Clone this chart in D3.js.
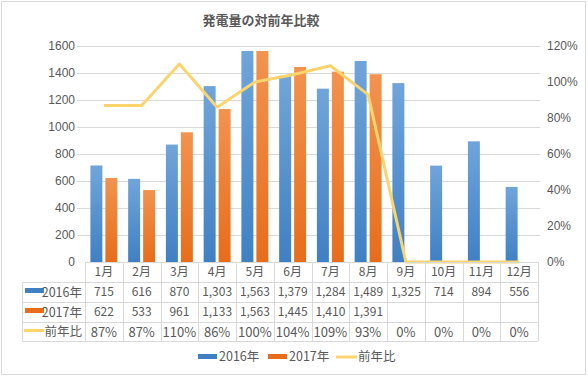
<!DOCTYPE html>
<html>
<head>
<meta charset="utf-8">
<script src="https://cdn.jsdelivr.net/npm/d3@7"></script>
<style>
body{margin:0;background:#fff;}
text{font-family:"Noto Sans CJK JP","Noto Sans",sans-serif;fill:#595959;}
</style>
</head>
<body>
<div id="chart"></div>
<script>
var months = ["1月","2月","3月","4月","5月","6月","7月","8月","9月","10月","11月","12月"];
var gen2016 = [715,616,870,1303,1563,1379,1284,1489,1325,714,894,556];
var gen2017 = [622,533,961,1133,1563,1445,1410,1391,null,null,null,null];
var ratio = [0.87,0.87,1.10,0.86,1.00,1.04,1.09,0.93,0,0,0,0];
var leftTicks = [0,200,400,600,800,1000,1200,1400,1600];
var rightTicks = [0,0.2,0.4,0.6,0.8,1.0,1.2];
var seriesNames = ["2016年","2017年","前年比"];

var width = 588, height = 377;
var plot = {left:85, right:538, top:46, bottom:262};
var rows = [262,282,302,322,341];
var colors = {a:["#70a5da","#3f80c4"], b:["#f2934f","#e76d1b"], line:"#fbd46e", grid:"#d9d9d9"};

var svg = d3.select("#chart").append("svg").attr("width",width).attr("height",height);

var defs = svg.append("defs");
function grad(id, c){
    var g = defs.append("linearGradient").attr("id",id).attr("x1",0).attr("y1",0).attr("x2",0).attr("y2",1);
    g.append("stop").attr("offset","0%").attr("stop-color",c[0]);
    g.append("stop").attr("offset","100%").attr("stop-color",c[1]);
}
grad("gA", colors.a);
grad("gB", colors.b);

svg.append("rect").attr("x",1.5).attr("y",1.5).attr("width",584).attr("height",373)
    .attr("fill","#fff").attr("stroke","#d9d9d9");

// title
svg.append("text").attr("x",261).attr("y",25).attr("text-anchor","middle")
    .style("font-size","13px").style("font-weight","bold").text("発電量の対前年比較");

var xs = d3.scaleBand().domain(months).range([plot.left, plot.right]);
var xin = d3.scaleBand().domain(["a","b"]).range([0, xs.bandwidth()]).paddingInner(0.2).paddingOuter(0.36);
var ys = d3.scaleLinear().domain([0,1600]).range([plot.bottom, plot.top]);
var yr = d3.scaleLinear().domain([0,1.2]).range([plot.bottom, plot.top]);

// gridlines
svg.append("g").selectAll("line").data(leftTicks.slice(1)).enter().append("line")
    .attr("x1",77).attr("x2",540)
    .attr("y1",function(d){return Math.round(ys(d))+0.5;})
    .attr("y2",function(d){return Math.round(ys(d))+0.5;})
    .attr("stroke",colors.grid);

// left axis
var la = svg.append("g").attr("transform","translate(75,0)")
    .call(d3.axisLeft(ys).tickValues(leftTicks).tickFormat(d3.format("d")).tickSize(0).tickPadding(0));
la.select(".domain").remove();
la.selectAll("text").style("font-size","12px").style("fill","#595959").style("font-family","inherit");

// right axis
var ra = svg.append("g").attr("transform","translate(547,0)")
    .call(d3.axisRight(yr).tickValues(rightTicks).tickFormat(d3.format(".0%")).tickSize(0).tickPadding(0));
ra.select(".domain").remove();
ra.selectAll("text").style("font-size","12px").style("fill","#595959").style("font-family","inherit");

// bars
var bars = svg.append("g");
bars.selectAll("rect.a").data(gen2016).enter().append("rect").attr("class","a")
    .attr("x",function(d,i){return xs(months[i])+xin("a");})
    .attr("width",xin.bandwidth())
    .attr("y",function(d){return ys(d);})
    .attr("height",function(d){return plot.bottom-ys(d);})
    .attr("fill","url(#gA)");
bars.selectAll("rect.b").data(gen2017).enter().filter(function(d){return d!=null;}).append("rect").attr("class","b")
    .attr("x",function(d,i){return xs(months[i])+xin("b");})
    .attr("width",xin.bandwidth())
    .attr("y",function(d){return ys(d);})
    .attr("height",function(d){return plot.bottom-ys(d);})
    .attr("fill","url(#gB)");

// ratio line
var line = d3.line()
    .x(function(d,i){return xs(months[i])+xs.bandwidth()/2;})
    .y(function(d){return yr(d);});
svg.append("path").datum(ratio).attr("d",line)
    .attr("fill","none").attr("stroke",colors.line).attr("stroke-width",3)
    .attr("stroke-linejoin","round");

// data table
var tbl = svg.append("g").attr("stroke",colors.grid).attr("shape-rendering","crispEdges");
rows.forEach(function(y,i){
    tbl.append("line").attr("x1", i==0 ? plot.left : 22).attr("x2",plot.right)
        .attr("y1",y+0.5).attr("y2",y+0.5);
});
var bounds = months.map(function(m){return xs(m);}).concat([plot.right]);
bounds.forEach(function(x){
    tbl.append("line").attr("x1",Math.round(x)+0.5).attr("x2",Math.round(x)+0.5)
        .attr("y1",rows[0]).attr("y2",rows[4]);
});
tbl.append("line").attr("x1",22.5).attr("x2",22.5).attr("y1",rows[1]).attr("y2",rows[4]);

var fmt = d3.format(",");
var cells = svg.append("g").style("font-size","12px").attr("text-anchor","middle");
months.forEach(function(m,i){
    var cx = xs(m)+xs.bandwidth()/2;
    cells.append("text").attr("x",cx).attr("y",(rows[0]+rows[1])/2+4).text(m);
    cells.append("text").attr("x",cx).attr("y",(rows[1]+rows[2])/2+4).text(fmt(gen2016[i]));
    if(gen2017[i]!=null)
        cells.append("text").attr("x",cx).attr("y",(rows[2]+rows[3])/2+4).text(fmt(gen2017[i]));
    cells.append("text").attr("x",cx).attr("y",(rows[3]+rows[4])/2+5)
        .style("font-size","13px").text(d3.format(".0%")(ratio[i]));
});

// row headers with keys
var rh = svg.append("g").style("font-size","12.5px");
rh.append("rect").attr("x",25).attr("y",(rows[1]+rows[2])/2-4).attr("width",19).attr("height",5).attr("fill",colors.a[1]);
rh.append("rect").attr("x",25).attr("y",(rows[2]+rows[3])/2-4).attr("width",19).attr("height",5).attr("fill",colors.b[1]);
rh.append("line").attr("x1",24).attr("x2",44).attr("y1",(rows[3]+rows[4])/2-1).attr("y2",(rows[3]+rows[4])/2-1)
    .attr("stroke",colors.line).attr("stroke-width",3);
rh.append("text").attr("x",82).attr("y",(rows[1]+rows[2])/2+5).attr("text-anchor","end").text(seriesNames[0]);
rh.append("text").attr("x",82).attr("y",(rows[2]+rows[3])/2+5).attr("text-anchor","end").text(seriesNames[1]);
rh.append("text").attr("x",82).attr("y",(rows[3]+rows[4])/2+4).attr("text-anchor","end").text(seriesNames[2]);

// legend
var lg = svg.append("g").style("font-size","12.5px");
var ly = 357;
lg.append("rect").attr("x",198).attr("y",ly-3).attr("width",19).attr("height",5).attr("fill",colors.a[1]);
lg.append("text").attr("x",219).attr("y",ly+4).text(seriesNames[0]);
lg.append("rect").attr("x",268).attr("y",ly-3).attr("width",19).attr("height",5).attr("fill",colors.b[1]);
lg.append("text").attr("x",289).attr("y",ly+4).text(seriesNames[1]);
lg.append("line").attr("x1",336).attr("x2",357).attr("y1",ly).attr("y2",ly).attr("stroke",colors.line).attr("stroke-width",3);
lg.append("text").attr("x",358).attr("y",ly+4).text(seriesNames[2]);
</script>
</body>
</html>
